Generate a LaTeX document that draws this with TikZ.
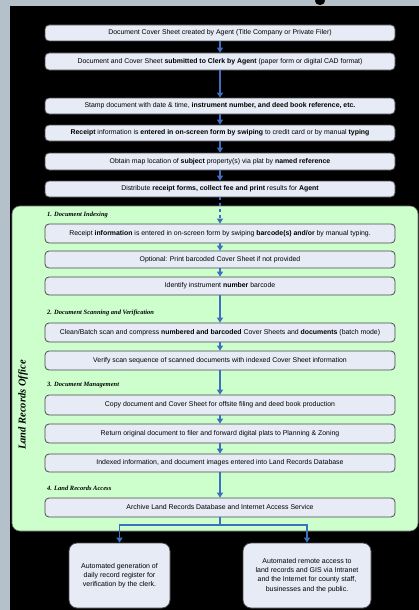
\documentclass[tikz,border=0pt]{standalone}
\usepackage{fontspec}
\usetikzlibrary{arrows.meta}
\newfontfamily\boxfont{Liberation Sans}
\newfontfamily\labfont{Liberation Serif}
\definecolor{stripgrey}{HTML}{B4C0CA}
\definecolor{panelgreen}{HTML}{CCFFCC}
\definecolor{boxfill}{HTML}{E6EBF5}
\definecolor{boxline}{HTML}{4A4A4A}
\definecolor{flowblue}{HTML}{3F6FBF}
\tikzset{
  procbox/.style={draw=boxline, line width=0.8pt, fill=boxfill, rounded corners=4pt,
    minimum width=350pt, inner sep=1pt, align=center,
    font=\boxfont\fontsize{6.9}{7.8}\selectfont},
  endbox/.style={draw=boxline, line width=0.8pt, fill=boxfill, rounded corners=8pt,
    minimum height=65pt, inner sep=2pt, align=center,
    font=\boxfont\fontsize{7}{9.2}\selectfont},
  seclabel/.style={anchor=west, inner sep=0pt, font=\labfont\bfseries\itshape\fontsize{6.5}{7}\selectfont},
  flow/.style={draw=flowblue, line width=1.3pt, -{Triangle[width=6pt,length=5pt]}},
  flowline/.style={draw=flowblue, line width=1.3pt}
}
\begin{document}
\begin{tikzpicture}[x=1pt,y=-1pt]
\useasboundingbox (0,0) rectangle (419,610);
% backdrop
\fill[stripgrey] (0,0) rectangle (419,610);
\fill[black] (10,6) rectangle (419,610);
\fill[black] (320,1) ellipse (5 and 4);
% office panel
\draw[fill=panelgreen, draw=black!55, line width=0.6pt, rounded corners=8pt] (12,206) rectangle (418,531);
\node[rotate=90, font=\labfont\bfseries\itshape\fontsize{10.5}{11}\selectfont] (office) at (23,405) {Land Records Office};

% intake steps
\node[procbox, minimum height=16pt] (b1) at (220,33) {Document Cover Sheet created by Agent (Title Company or Private Filer)};
\node[procbox, minimum height=17pt] (b2) at (220,61.5) {Document and Cover Sheet \textbf{submitted to Clerk by Agent} (paper form or digital CAD format)};
\node[procbox, minimum height=16pt] (b3) at (220,106) {Stamp document with date \& time, \textbf{instrument number, and deed book reference, etc.}};
\node[procbox, minimum height=16pt] (b4) at (220,133) {\textbf{Receipt} information is \textbf{entered in on-screen form by swiping} to credit card or by manual \textbf{typing}};
\node[procbox, minimum height=17pt] (b5) at (220,161.5) {Obtain map location of \textbf{subject} property(s) via plat by \textbf{named reference}};
\node[procbox, minimum height=16pt] (b6) at (220,189) {Distribute \textbf{receipt forms, collect fee and print} results for \textbf{Agent}};

% 1. indexing
\node[seclabel] (s1) at (47,215) {1. Document Indexing};
\node[procbox, minimum height=19pt] (b7) at (220,233.5) {Receipt \textbf{information} is entered in on-screen form by swiping \textbf{barcode(s) and/or} by manual typing.};
\node[procbox, minimum height=17pt] (b8) at (220,259.5) {Optional: Print barcoded Cover Sheet if not provided};
\node[procbox, minimum height=18pt] (b9) at (220,286) {Identify instrument \textbf{number} barcode};

% 2. scanning
\node[seclabel] (s2) at (47,313) {2. Document Scanning and Verification};
\node[procbox, minimum height=19pt] (b10) at (220,332.5) {Clean/Batch scan and compress \textbf{numbered and barcoded} Cover Sheets and \textbf{documents} (batch mode)};
\node[procbox, minimum height=19pt] (b11) at (220,360.5) {Verify scan sequence of scanned documents with indexed Cover Sheet information};

% 3. management
\node[seclabel] (s3) at (47,385) {3. Document Management};
\node[procbox, minimum height=20pt] (b12) at (220,405) {Copy document and Cover Sheet for offsite filing and deed book production};
\node[procbox, minimum height=19pt] (b13) at (220,433.5) {Return original document to filer and forward digital plats to Planning \& Zoning};
\node[procbox, minimum height=18pt] (b14) at (220,463) {Indexed information, and document images entered into Land Records Database};

% 4. access
\node[seclabel] (s4) at (47,488) {4. Land Records Access};
\node[procbox, minimum height=19pt] (b15) at (220,507.5) {Archive Land Records Database and Internet Access Service};

% outcomes
\node[endbox, minimum width=101pt] (o1) at (119.5,575.5) {Automated generation of\\daily record register for\\verification by the clerk.};
\node[endbox, minimum width=128pt] (o2) at (307,575.5) {Automated remote access to\\land records and GIS via Intranet\\and the Internet for county staff,\\businesses and the public.};

% connectors
\draw[flow] (b1) -- (b2);
\draw[flow] (b2) -- (b3);
\draw[flow] (b3) -- (b4);
\draw[flow] (b4) -- (b5);
\draw[flow] (b5) -- (b6);
\draw[flow, dashed] (b6) -- (b7);
\draw[flow] (b7) -- (b8);
\draw[flow] (b8) -- (b9);
\draw[flow] (b9) -- (b10);
\draw[flow] (b10) -- (b11);
\draw[flow] (b11) -- (b12);
\draw[flow] (b12) -- (b13);
\draw[flow] (b13) -- (b14);
\draw[flow] (b14) -- (b15);
\coordinate (split) at (220,525);
\draw[flowline] (b15.south) -- (split);
\draw[flow] (split) -| (o1.north);
\draw[flow] (split) -| (o2.north);
\end{tikzpicture}
\end{document}
